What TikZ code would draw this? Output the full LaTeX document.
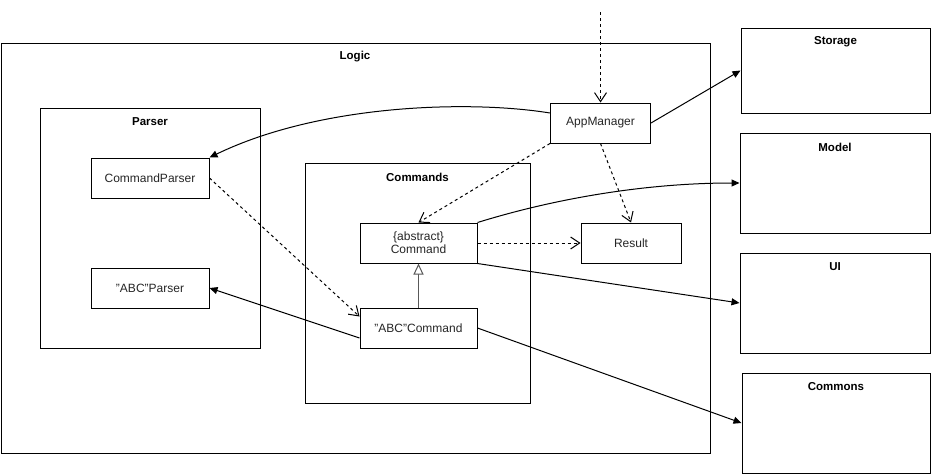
\documentclass[tikz,border=0pt]{standalone}
\usepackage{fontspec}
\setmainfont{Liberation Sans}
\usetikzlibrary{arrows.meta,calc}
\begin{document}
\begin{tikzpicture}[x=1pt,y=-1pt,line width=1pt,
  box/.style={draw,rectangle,inner sep=0pt,fill=white},
  cls/.style={box,font=\fontsize{12}{14}\selectfont,text=black!85,align=center},
  ttl/.style={font=\fontsize{11.5}{13}\selectfont\bfseries,inner sep=0pt,anchor=center},
  dep/.style={dash pattern=on 3pt off 3pt,-{Straight Barb[length=9pt,width=12pt,line width=1pt]}},
  assoc/.style={-{Triangle[length=8pt,width=7pt]}},
  inherit/.style={draw=black!65,line width=1.3pt,-{Triangle[open,length=11pt,width=10pt,fill=white,line width=1pt]}}]
\useasboundingbox (0,0) rectangle (931,474);

% containers
\node[box,minimum width=709pt,minimum height=410pt] (logic) at (355.5,248) {};
\node[ttl] at (355,57) {Logic};
\node[box,minimum width=220pt,minimum height=240pt] (parser) at (150,228) {};
\node[ttl] at (150,122) {Parser};
\node[box,minimum width=225pt,minimum height=240pt] (commands) at (417.5,283) {};
\node[ttl] at (417.5,177) {Commands};

\node[box,minimum width=189pt,minimum height=85pt] (storage) at (835.5,70.5) {};
\node[ttl] at (835.5,42) {Storage};
\node[box,minimum width=190pt,minimum height=100pt] (model) at (835,183) {};
\node[ttl] at (835,147) {Model};
\node[box,minimum width=190pt,minimum height=100pt] (ui) at (835,303) {};
\node[ttl] at (835,267) {UI};
\node[box,minimum width=188pt,minimum height=100pt] (commons) at (836,423) {};
\node[ttl] at (836,387) {Commons};

% classes
\node[cls,minimum width=118pt,minimum height=40pt] (cp) at (150,178) {CommandParser};
\node[cls,minimum width=118pt,minimum height=40pt] (abcp) at (150,288) {"ABC"Parser};
\node[cls,minimum width=117pt,minimum height=40pt,font=\fontsize{12}{13}\selectfont] (cmd) at (418.5,243) {\{abstract\}\\Command};
\node[cls,minimum width=117pt,minimum height=40pt] (abccmd) at (418.5,328) {"ABC"Command};
\node[cls,minimum width=100pt,minimum height=40pt] (result) at (631,243) {Result};
\node[cls,minimum width=100pt,minimum height=40pt] (app) at (600.5,123) {AppManager};

\coordinate (entry) at (600.5,12);

% connectors
\draw[dep] (entry) -- (app.north);
\draw[assoc] ($(app.west)+(0,-10)$) .. controls (470,100) and (320,104) .. (cp.north east);
\draw[assoc] (app.east) -- (storage.west);
\draw[dep] (app.south west) -- (cmd.north);
\draw[dep] (app.south) -- (result.north);
\draw[dep] (cp.east) -- ($(abccmd.north west)+(0,9)$);
\draw[dep] (cmd.east) -- (result.west);
\draw[assoc] (cmd.north east) .. controls (560,197) and (650,183) .. (model.west);
\draw[assoc] (cmd.south east) -- (ui.west);
\draw[inherit] (abccmd.north) -- (cmd.south);
\draw[assoc] ($(abccmd.west)+(0,10)$) -- (abcp.east);
\draw[assoc] (abccmd.east) -- (commons.west);
\end{tikzpicture}
\end{document}
